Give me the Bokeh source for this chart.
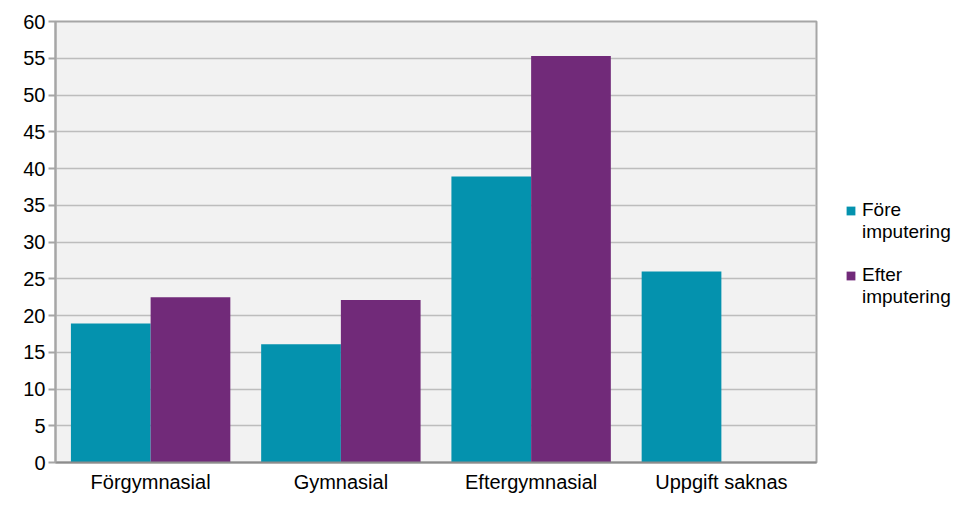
from bokeh.plotting import figure
from bokeh.layouts import row
from bokeh.models import ColumnDataSource, FactorRange, FixedTicker, Legend, LegendItem, Range1d
from bokeh.transform import dodge
from bokeh.embed import file_html
from bokeh.resources import INLINE

categories = ["Förgymnasial", "Gymnasial", "Eftergymnasial", "Uppgift saknas"]
fore = [18.9, 16.1, 38.9, 26.0]
efter = [22.5, 22.1, 55.3, 0.0]
series_labels = ["Före imputering", "Efter imputering"]
y_ticks = list(range(0, 61, 5))

TEAL = "#0492AE"
PURPLE = "#712A79"
FONT = "Liberation Sans"

src = ColumnDataSource(dict(cat=categories, fore=fore, efter=efter))

p = figure(x_range=FactorRange(*categories, range_padding=0), y_range=(0, 60),
           width=818, height=495, output_backend="svg", toolbar_location=None,
           min_border_left=55, min_border_right=2, min_border_top=21, min_border_bottom=26)

p.background_fill_color = "#F2F2F2"
p.border_fill_color = "white"
p.outline_line_color = "#A6A6A6"
p.outline_line_width = 2

p.vbar(x=dodge("cat", -0.2095, range=p.x_range), top="fore", width=0.419, source=src,
       fill_color=TEAL, line_color=None)
p.vbar(x=dodge("cat", 0.2095, range=p.x_range), top="efter", width=0.419, source=src,
       fill_color=PURPLE, line_color=None)

p.xgrid.grid_line_color = None
p.ygrid.grid_line_color = "#BDBDBD"
p.ygrid.grid_line_width = 1.5
p.ygrid.ticker = FixedTicker(ticks=y_ticks)

p.yaxis.ticker = FixedTicker(ticks=y_ticks)
p.yaxis.axis_line_color = "#A6A6A6"
p.yaxis.axis_line_width = 2
p.yaxis.major_tick_line_color = "#A6A6A6"
p.yaxis.major_tick_line_width = 2
p.yaxis.major_tick_out = 7
p.yaxis.major_tick_in = 0
p.yaxis.minor_tick_line_color = None
p.yaxis.major_label_text_font = FONT
p.yaxis.major_label_text_font_size = "20px"
p.yaxis.major_label_text_color = "black"
p.yaxis.major_label_standoff = 3

p.xaxis.axis_line_color = "#8C8C8C"
p.xaxis.axis_line_width = 2
p.xaxis.major_tick_line_color = None
p.xaxis.minor_tick_line_color = None
p.xaxis.major_label_text_font = FONT
p.xaxis.major_label_text_font_size = "20px"
p.xaxis.major_label_text_color = "black"
p.xaxis.major_label_standoff = 2

# legend lives in its own small figure to the right of the chart;
# its proxy bars use the series values, which fall outside this figure's view
lf = figure(width=134, height=495, output_backend="svg", toolbar_location=None,
            x_range=Range1d(-1, 0), y_range=Range1d(-1, 0),
            min_border=0, outline_line_color=None)
lf.axis.visible = False
lf.grid.visible = False
lr1 = lf.vbar(x="fore", top="fore", width=0.1, source=src, fill_color=TEAL, line_color=None)
lr2 = lf.vbar(x="fore", top="efter", width=0.1, source=src, fill_color=PURPLE, line_color=None)
blank = lf.vbar(x="fore", top="fore", width=0.1, source=src, fill_alpha=0, line_alpha=0)

items = []
for i, (lab, r) in enumerate(zip(series_labels, [lr1, lr2])):
    first, second = lab.split(" ", 1)
    items.append(LegendItem(label=first, renderers=[r]))
    items.append(LegendItem(label=second, renderers=[blank]))
    if i == 0:
        items.append(LegendItem(label=" ", renderers=[blank]))

legend = Legend(items=items, location=(27, 154), orientation="vertical",
                background_fill_alpha=0, border_line_color=None,
                glyph_width=11, glyph_height=11, label_standoff=6, label_height=21,
                label_text_font=FONT, label_text_font_size="19px",
                label_text_color="black", spacing=0, padding=0, margin=0)
lf.add_layout(legend, "center")

layout = row(p, lf)
open("out.html", "w").write(file_html(layout, INLINE))
